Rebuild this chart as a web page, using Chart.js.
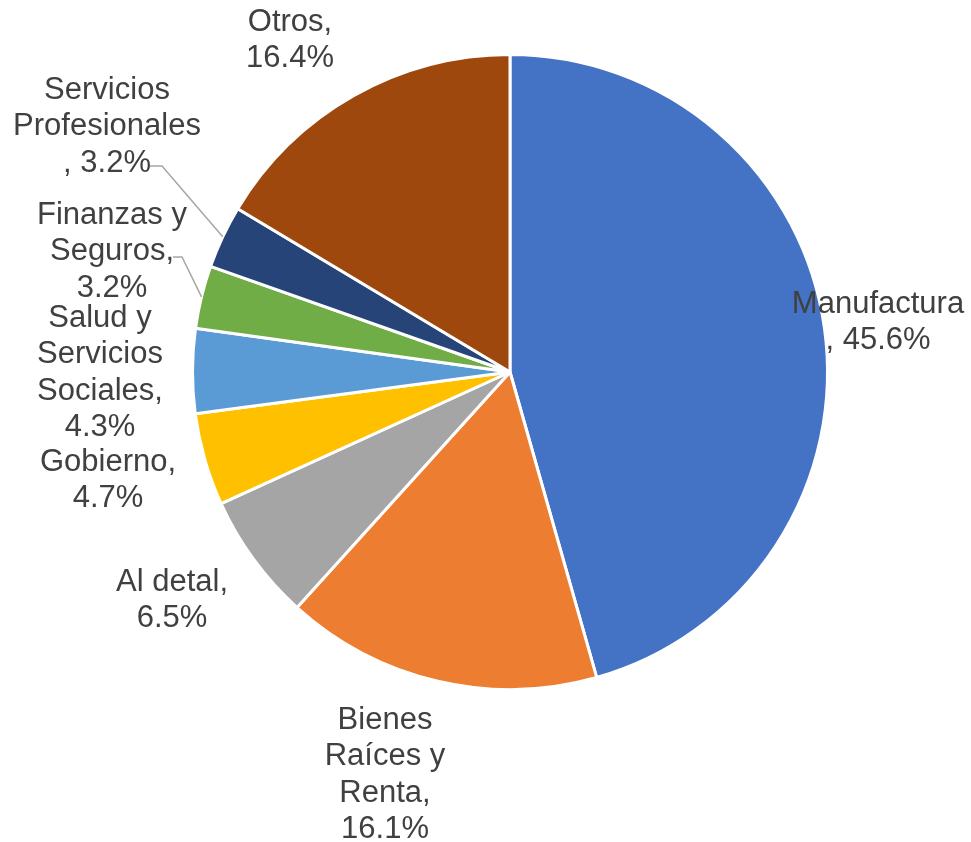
<!DOCTYPE html>
<html>
<head>
<meta charset="utf-8">
<script src="https://cdn.jsdelivr.net/npm/chart.js@4/dist/chart.umd.min.js"></script>
<style>
  html, body { margin: 0; padding: 0; background: #fff; }
  #wrap { width: 971px; height: 842px; }
</style>
</head>
<body>
<div id="wrap"><canvas id="chartSectores" width="971" height="842"></canvas></div>
<script>
// data
var sectorNames = ['Manufactura', 'Bienes Raíces y Renta', 'Al detal', 'Gobierno',
    'Salud y Servicios Sociales', 'Finanzas y Seguros', 'Servicios Profesionales', 'Otros'];
var sectorShares = [45.6, 16.1, 6.5, 4.7, 4.3, 3.2, 3.2, 16.4];
var sectorColors = ['#4472C4', '#ED7D31', '#A5A5A5', '#FFC000', '#5B9BD5', '#70AD47', '#264478', '#9E480E'];

// label text lines (as in the picture)
var labelLines = [
    ['Manufactura', ', 45.6%'],
    ['Bienes', 'Raíces y', 'Renta,', '16.1%'],
    ['Al detal,', '6.5%'],
    ['Gobierno,', '4.7%'],
    ['Salud y', 'Servicios', 'Sociales,', '4.3%'],
    ['Finanzas y', 'Seguros,', '3.2%'],
    ['Servicios', 'Profesionales', ', 3.2%'],
    ['Otros,', '16.4%']
];

// layout of labels: centre of first line, and leader start (or null)
var labelLayout = [
    { x: 878, y: 304, leader: null },
    { x: 385, y: 720, leader: null },
    { x: 172, y: 582, leader: null },
    { x: 108, y: 462, leader: null },
    { x: 100, y: 318, leader: null },
    { x: 112, y: 215, leader: [173, 182, 257] },
    { x: 107, y: 90,  leader: [150, 162, 166] },
    { x: 290, y: 22,  leader: null }
];
var lineGap = 36.5;

var outsideLabels = {
    id: 'outsideLabels',
    afterDraw: function(chart) {
        var ctx = chart.ctx;
        var arcs = chart.getDatasetMeta(0).data;
        ctx.save();
        ctx.font = '31px "Liberation Sans", Arial, sans-serif';
        ctx.fillStyle = '#404040';
        ctx.textAlign = 'center';
        ctx.textBaseline = 'middle';
        $each(arcs, function(i, arc) {
            var lay = labelLayout[i];
            $each(labelLines[i], function(j, txt) {
                ctx.fillText(txt, lay.x, lay.y + j * lineGap);
            });
            if (lay.leader) {
                var p = arc.getProps(['x', 'y', 'startAngle', 'endAngle', 'outerRadius'], true);
                var mid = (p.startAngle + p.endAngle) / 2;
                var ex = p.x + Math.cos(mid) * p.outerRadius;
                var ey = p.y + Math.sin(mid) * p.outerRadius;
                ctx.beginPath();
                ctx.strokeStyle = '#A6A6A6';
                ctx.lineWidth = 1.5;
                ctx.moveTo(lay.leader[0], lay.leader[2]);
                ctx.lineTo(lay.leader[1], lay.leader[2]);
                ctx.lineTo(ex, ey);
                ctx.stroke();
            }
        });
        ctx.restore();
    }
};

function $each(arr, fn) {
    for (var i = 0; i < arr.length; i++) { fn(i, arr[i]); }
}

var ctx = document.getElementById('chartSectores');
var myPieChart = new Chart(ctx, {
    type: 'pie',
    data: {
        labels: sectorNames,
        datasets: [{
            data: sectorShares,
            backgroundColor: sectorColors,
            borderColor: '#FFFFFF',
            borderWidth: 3
        }]
    },
    options: {
        responsive: false,
        animation: false,
        layout: {
            padding: { left: 191, top: 53, right: 142, bottom: 151 }
        },
        plugins: {
            legend: { display: false },
            tooltip: { enabled: false }
        }
    },
    plugins: [outsideLabels]
});
</script>
</body>
</html>
